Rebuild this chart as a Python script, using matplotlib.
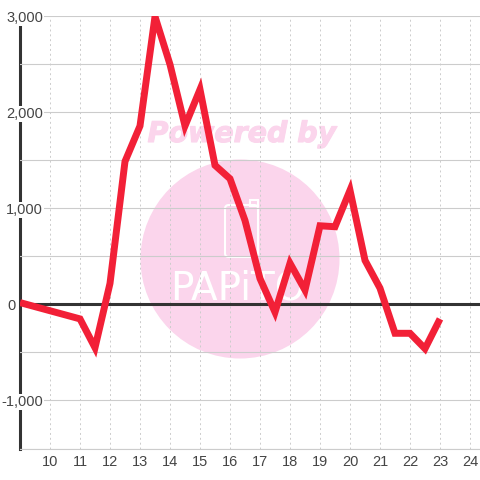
import matplotlib
matplotlib.use('Agg')
import matplotlib.pyplot as plt
from matplotlib.patches import Circle, FancyBboxPatch, Rectangle
import matplotlib.patheffects as pe

hours = [9, 11, 11.5, 12, 12.5, 13, 13.5, 14, 14.5, 15, 15.5, 16, 16.5, 17, 17.5,
         18, 18.5, 19, 19.5, 20, 20.5, 21, 21.5, 22, 22.5, 23]
values = [20, -150, -450, 220, 1490, 1860, 3000, 2500, 1860, 2240, 1450, 1310, 875, 270, -80,
          430, 150, 820, 810, 1190, 460, 170, -300, -300, -460, -150]
x_ticks = list(range(10, 25))
y_ticks = [-1500, -1000, -500, 0, 500, 1000, 1500, 2000, 2500, 3000]
y_labels = ['', '-1,000', '', '0', '', '1,000', '', '2,000', '', '3,000']

plt.rcParams['font.family'] = ['Liberation Sans', 'DejaVu Sans']

W = 480.0
fig = plt.figure(figsize=(4.8, 4.8), dpi=100, facecolor='white')
ax = fig.add_axes([20 / W, 1 - 448.5 / W, 1 - 20 / W, (448.5 - 16.5) / W], zorder=1)
ax.patch.set_alpha(0)

# watermark sits behind the axes, in pixel coordinates
pink = '#fbd5ec'
fig.add_artist(Circle((240 / W, 1 - 259 / W), 99.5 / W, transform=fig.transFigure, color=pink, lw=0, zorder=0))
fig.text(242 / W, 1 - 134 / W, 'Powered by', color=pink, fontsize=20.5, fontweight='bold', fontstyle='italic',
         family='DejaVu Sans', ha='center', va='center', zorder=0,
         path_effects=[pe.withStroke(linewidth=0.8, foreground=pink)])
fig.text(238 / W, 1 - 289 / W, 'PAPiTO', color='white', fontsize=28, family='Liberation Sans Narrow',
         ha='center', va='center', zorder=0)
fig.add_artist(FancyBboxPatch((225 / W, 1 - 257 / W), 33 / W, 52 / W, boxstyle='round,pad=0,rounding_size=0.008',
                              transform=fig.transFigure, fc='none', ec='white', lw=1.5, zorder=0))
fig.add_artist(Rectangle((250 / W, 1 - 206 / W), 8 / W, 6 / W, transform=fig.transFigure,
                         fc='none', ec='white', lw=1.5, zorder=0))

ax.set_xlim(9, 9 + (W - 20) / 30)
ax.set_ylim(-1500, 3000)
ax.set_axisbelow(True)

ax.plot(hours, values, color='#f22037', lw=5, solid_joinstyle='miter', solid_capstyle='butt', zorder=4)
ax.axhline(0, color='#333333', lw=2.2, zorder=3)

for name in ['top', 'right']:
    ax.spines[name].set_visible(False)
ax.spines['left'].set_color('#333333')
ax.spines['left'].set_linewidth(2.2)
ax.spines['left'].set_zorder(0.3)
ax.spines['bottom'].set_color('#cccccc')
ax.spines['bottom'].set_linewidth(0.8)

ax.set_xticks(x_ticks)
ax.set_yticks(y_ticks)
ax.set_yticklabels(y_labels)
ax.grid(True, axis='y', color='#cccccc', lw=0.8, ls='-')
ax.grid(True, axis='x', color='#cccccc', lw=0.7, ls=(0, (2, 3)))
ax.tick_params(axis='x', length=0, pad=5, labelsize=10.5, labelcolor='#444444')
ax.tick_params(axis='y', length=0, labelsize=10.5, labelcolor='#444444')

# value labels run over the axis line and hide it behind a white box
for tick, lab in zip(ax.yaxis.get_major_ticks(), y_labels):
    tick.set_pad(3.2 if lab == '0' else -16.6)
    tick.label1.set_bbox(dict(facecolor='white', edgecolor='none', pad=0.6))

fig.savefig('out.png', dpi=100)
